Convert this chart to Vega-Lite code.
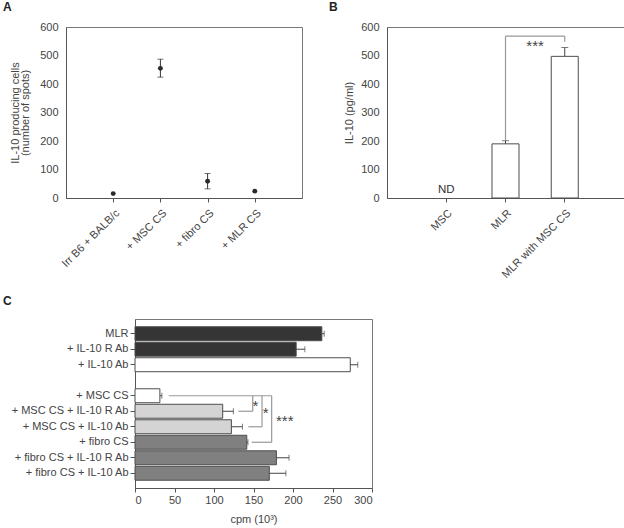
{
  "$schema": "https://vega.github.io/schema/vega-lite/v6.json",
  "padding": {"left": 2, "top": 0, "right": 0, "bottom": 0},
  "config": {
    "font": "Liberation Sans",
    "view": {"stroke": "#777", "strokeWidth": 1},
    "axis": {"labelFont": "Liberation Sans", "labelFontSize": 11, "labelColor": "#444", "titleFont": "Liberation Sans", "titleFontSize": 11, "titleFontWeight": "normal", "titleColor": "#444", "domainColor": "#555", "tickColor": "#555", "grid": false, "tickSize": 4, "labelOverlap": false},
    "title": {"font": "Liberation Sans", "fontSize": 12, "fontWeight": "bold", "color": "#222", "anchor": "start", "baseline": "alphabetic", "frame": "group"}
  },
  "spacing": 13,
  "vconcat": [
    {
      "hconcat": [
        {
          "title": {"text": "A", "dx": -63, "offset": 7},
          "width": 236,
          "height": 171,
          "data": {"values": [
            {"cond": "Irr B6 + BALB/c", "spots": 15.5},
            {"cond": "+ MSC CS", "spots": 455, "lo": 424, "hi": 487},
            {"cond": "+ fibro CS", "spots": 59, "lo": 32, "hi": 86},
            {"cond": "+ MLR CS", "spots": 24}
          ]},
          "encoding": {
            "x": {"field": "cond", "type": "nominal", "sort": null, "scale": {"type": "point", "padding": 1, "domain": ["Irr B6 + BALB/c", "+ MSC CS", "+ fibro CS", "+ MLR CS"]}, "axis": {"title": null, "labelAngle": -45, "labelPadding": 5}}
          },
          "layer": [
            {
              "mark": {"type": "rule", "color": "#333"},
              "encoding": {
                "y": {"field": "lo", "type": "quantitative", "scale": {"domain": [0, 600], "nice": false}, "title": ["IL-10 producing cells", "(number of spots)"], "axis": {"values": [0, 100, 200, 300, 400, 500, 600], "ticks": false, "labelPadding": 8, "titleLineHeight": 10, "titlePadding": 9}},
                "y2": {"field": "hi"}
              }
            },
            {
              "mark": {"type": "tick", "color": "#333", "size": 6, "thickness": 1},
              "encoding": {"y": {"field": "lo", "type": "quantitative", "title": ["IL-10 producing cells", "(number of spots)"], "axis": {"values": [0, 100, 200, 300, 400, 500, 600], "ticks": false, "labelPadding": 8, "titleLineHeight": 10, "titlePadding": 9}}}
            },
            {
              "mark": {"type": "tick", "color": "#333", "size": 6, "thickness": 1},
              "encoding": {"y": {"field": "hi", "type": "quantitative", "title": ["IL-10 producing cells", "(number of spots)"], "axis": {"values": [0, 100, 200, 300, 400, 500, 600], "ticks": false, "labelPadding": 8, "titleLineHeight": 10, "titlePadding": 9}}}
            },
            {
              "mark": {"type": "point", "filled": true, "size": 24, "color": "#2a2a2a", "opacity": 1},
              "encoding": {"y": {"field": "spots", "type": "quantitative", "title": ["IL-10 producing cells", "(number of spots)"], "axis": {"values": [0, 100, 200, 300, 400, 500, 600], "ticks": false, "labelPadding": 8, "titleLineHeight": 10, "titlePadding": 9}}}
            }
          ]
        },
        {
          "title": {"text": "B", "dx": -58, "offset": 7},
          "width": 237,
          "height": 171,
          "data": {"values": [
            {"cond": "MSC"},
            {"cond": "MLR", "val": 190, "hi": 201},
            {"cond": "MLR with MSC CS", "val": 497, "hi": 528}
          ]},
          "encoding": {
            "x": {"field": "cond", "type": "nominal", "sort": null, "scale": {"domain": ["MSC", "MLR", "MLR with MSC CS"], "paddingInner": 0.544, "paddingOuter": 0.772}, "axis": {"title": null, "labelAngle": -45, "labelPadding": 5}}
          },
          "layer": [
            {
              "mark": {"type": "bar", "fill": "#ffffff", "stroke": "#4d4d4d", "strokeWidth": 1},
              "encoding": {
                "y": {"field": "val", "type": "quantitative", "scale": {"domain": [0, 600], "nice": false}, "title": "IL-10 (pg/ml)", "axis": {"values": [0, 100, 200, 300, 400, 500, 600], "ticks": false, "labelPadding": 8, "titlePadding": 6}}
              }
            },
            {
              "mark": {"type": "rule", "color": "#444"},
              "encoding": {"y": {"field": "val", "type": "quantitative", "title": "IL-10 (pg/ml)", "axis": {"values": [0, 100, 200, 300, 400, 500, 600], "ticks": false, "labelPadding": 8, "titlePadding": 6}}, "y2": {"field": "hi"}}
            },
            {
              "mark": {"type": "tick", "color": "#444", "size": 7, "thickness": 1},
              "encoding": {"y": {"field": "hi", "type": "quantitative", "title": "IL-10 (pg/ml)", "axis": {"values": [0, 100, 200, 300, 400, 500, 600], "ticks": false, "labelPadding": 8, "titlePadding": 6}}}
            },
            {
              "data": {"values": [{"cond": "MSC", "t": "ND", "v": 0}]},
              "mark": {"type": "text", "fontSize": 11.5, "color": "#333", "baseline": "alphabetic", "dy": -5},
              "encoding": {"y": {"field": "v", "type": "quantitative", "title": "IL-10 (pg/ml)", "axis": {"values": [0, 100, 200, 300, 400, 500, 600], "ticks": false, "labelPadding": 8, "titlePadding": 6}}, "text": {"field": "t"}}
            },
            {
              "data": {"values": [
                {"a": "MLR", "b": "MLR", "v": 203, "v2": 568},
                {"a": "MLR", "b": "MLR with MSC CS", "v": 568, "v2": 568},
                {"a": "MLR with MSC CS", "b": "MLR with MSC CS", "v": 568, "v2": 548}
              ]},
              "mark": {"type": "rule", "color": "#999", "strokeWidth": 1.2},
              "encoding": {
                "x": {"field": "a", "type": "nominal"},
                "x2": {"field": "b"},
                "y": {"field": "v", "type": "quantitative", "title": "IL-10 (pg/ml)", "axis": {"values": [0, 100, 200, 300, 400, 500, 600], "ticks": false, "labelPadding": 8, "titlePadding": 6}},
                "y2": {"field": "v2"}
              }
            },
            {
              "data": {"values": [{"cond": "MLR", "t": "***", "v": 516}]},
              "mark": {"type": "text", "fontSize": 15, "color": "#444", "baseline": "alphabetic", "dx": 29.6},
              "encoding": {"y": {"field": "v", "type": "quantitative", "title": "IL-10 (pg/ml)", "axis": {"values": [0, 100, 200, 300, 400, 500, 600], "ticks": false, "labelPadding": 8, "titlePadding": 6}}, "text": {"field": "t"}}
            }
          ]
        }
      ],
      "spacing": 85,
      "bounds": "flush"
    },
    {
      "hconcat": [
        {
          "width": 1,
          "height": 169,
          "data": {"values": []},
          "mark": {"type": "point", "opacity": 0},
          "view": {"stroke": null}
        },
        {
          "title": {"text": "C", "dx": -132, "offset": 11},
          "width": 237,
          "height": 169,
          "data": {"values": [
            {"row": "MLR", "val": 236.5, "hi": 239.5, "kind": "dark"},
            {"row": "+ IL-10 R Ab", "val": 204, "hi": 215, "kind": "dark"},
            {"row": "+ IL-10 Ab", "val": 272.5, "hi": 282, "kind": "white"},
            {"row": "+ MSC CS", "val": 31.5, "hi": 34, "kind": "white"},
            {"row": "+ MSC CS + IL-10 R Ab", "val": 111, "hi": 124.5, "kind": "light"},
            {"row": "+ MSC CS + IL-10 Ab", "val": 122, "hi": 136, "kind": "light"},
            {"row": "+ fibro CS", "val": 141.5, "hi": 143, "kind": "mid"},
            {"row": "+ fibro CS + IL-10 R Ab", "val": 179, "hi": 195, "kind": "mid"},
            {"row": "+ fibro CS + IL-10 Ab", "val": 170, "hi": 191, "kind": "mid"}
          ]},
          "encoding": {
            "y": {"field": "row", "type": "nominal", "sort": null,
              "scale": {"domain": ["MLR", "+ IL-10 R Ab", "+ IL-10 Ab", " ", "+ MSC CS", "+ MSC CS + IL-10 R Ab", "+ MSC CS + IL-10 Ab", "+ fibro CS", "+ fibro CS + IL-10 R Ab", "+ fibro CS + IL-10 Ab"], "paddingInner": 0.1, "paddingOuter": 0.5},
              "axis": {"title": null, "values": ["MLR", "+ IL-10 R Ab", "+ IL-10 Ab", "+ MSC CS", "+ MSC CS + IL-10 R Ab", "+ MSC CS + IL-10 Ab", "+ fibro CS", "+ fibro CS + IL-10 R Ab", "+ fibro CS + IL-10 Ab"], "labelPadding": 2, "tickSize": 5}}
          },
          "layer": [
            {
              "mark": {"type": "bar", "stroke": "#4d4d4d", "strokeWidth": 1},
              "encoding": {
                "x": {"field": "val", "type": "quantitative", "scale": {"domain": [0, 300], "nice": false}, "title": "cpm (10³)", "axis": {"values": [0, 50, 100, 150, 200, 250, 300], "titlePadding": 8}},
                "fill": {"field": "kind", "type": "nominal", "scale": {"domain": ["dark", "white", "light", "mid"], "range": ["#353535", "#ffffff", "#d4d4d4", "#808080"]}, "legend": null}
              }
            },
            {
              "mark": {"type": "rule", "color": "#444"},
              "encoding": {"x": {"field": "val", "type": "quantitative", "title": "cpm (10³)", "axis": {"values": [0, 50, 100, 150, 200, 250, 300], "titlePadding": 8}}, "x2": {"field": "hi"}}
            },
            {
              "mark": {"type": "tick", "color": "#444", "size": 6, "thickness": 1},
              "encoding": {"x": {"field": "hi", "type": "quantitative", "title": "cpm (10³)", "axis": {"values": [0, 50, 100, 150, 200, 250, 300], "titlePadding": 8}}}
            },
            {
              "data": {"values": [
                {"x": 42.7, "x2": 173, "r1": "+ MSC CS", "r2": "+ MSC CS"},
                {"x": 149, "x2": 149, "r1": "+ MSC CS", "r2": "+ MSC CS + IL-10 R Ab"},
                {"x": 130.8, "x2": 149, "r1": "+ MSC CS + IL-10 R Ab", "r2": "+ MSC CS + IL-10 R Ab"},
                {"x": 160.8, "x2": 160.8, "r1": "+ MSC CS", "r2": "+ MSC CS + IL-10 Ab"},
                {"x": 143.4, "x2": 160.8, "r1": "+ MSC CS + IL-10 Ab", "r2": "+ MSC CS + IL-10 Ab"},
                {"x": 173, "x2": 173, "r1": "+ MSC CS", "r2": "+ fibro CS"},
                {"x": 147.7, "x2": 173, "r1": "+ fibro CS", "r2": "+ fibro CS"}
              ]},
              "mark": {"type": "rule", "color": "#999", "strokeWidth": 1.2},
              "encoding": {
                "x": {"field": "x", "type": "quantitative", "title": "cpm (10³)", "axis": {"values": [0, 50, 100, 150, 200, 250, 300], "titlePadding": 8}},
                "x2": {"field": "x2"},
                "y": {"field": "r1", "type": "nominal"},
                "y2": {"field": "r2"}
              }
            },
            {
              "data": {"values": [
                {"x": 152.3, "r": "+ MSC CS + IL-10 R Ab", "t": "*"},
                {"x": 189.6, "r": "+ MSC CS + IL-10 Ab", "t": "***"}
              ]},
              "mark": {"type": "text", "fontSize": 15, "color": "#444", "baseline": "alphabetic", "dy": -0.5},
              "encoding": {"x": {"field": "x", "type": "quantitative", "title": "cpm (10³)", "axis": {"values": [0, 50, 100, 150, 200, 250, 300], "titlePadding": 8}}, "y": {"field": "r", "type": "nominal"}, "text": {"field": "t"}}
            },
            {
              "data": {"values": [
                {"x": 165.4, "r": "+ MSC CS + IL-10 R Ab", "t": "*"}
              ]},
              "mark": {"type": "text", "fontSize": 15, "color": "#444", "baseline": "alphabetic", "dy": 7},
              "encoding": {"x": {"field": "x", "type": "quantitative", "title": "cpm (10³)", "axis": {"values": [0, 50, 100, 150, 200, 250, 300], "titlePadding": 8}}, "y": {"field": "r", "type": "nominal"}, "text": {"field": "t"}}
            }
          ]
        }
      ],
      "spacing": 68,
      "bounds": "flush"
    }
  ]
}
